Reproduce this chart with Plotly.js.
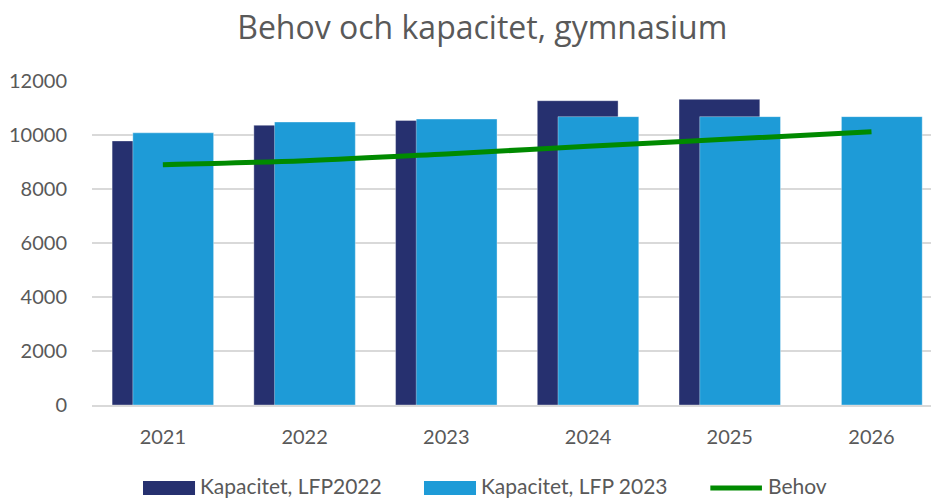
<!DOCTYPE html>
<html>
<head>
<meta charset="utf-8">
<script src="https://cdn.plot.ly/plotly-3.0.1.min.js"></script>
<style>html,body{margin:0;padding:0;background:#fff;}#chart{width:931px;height:499px;}</style>
</head>
<body>
<div id="chart"></div>
<script>
const years = ["2021", "2022", "2023", "2024", "2025", "2026"];
const years2022 = ["2021", "2022", "2023", "2024", "2025"];
const kapacitetLFP2022 = [9780, 10360, 10540, 11270, 11320];
const kapacitetLFP2023 = [10080, 10480, 10590, 10680, 10680, 10680];
const behov = [8900, 9050, 9300, 9580, 9850, 10120];
const yTicks = [0, 2000, 4000, 6000, 8000, 10000, 12000];
const seriesNames = ['Kapacitet, LFP2022', 'Kapacitet, LFP 2023', 'Behov'];

const FONT = "Lato, 'Open Sans', sans-serif";
const TITLE_FONT = "'Open Sans', Lato, sans-serif";
const C_DARK = '#26306F', C_LIGHT = '#1E9BD7', C_GREEN = '#008A00', C_TEXT = '#595959';

const traces = [
  {
    type: 'bar', name: seriesNames[0], x: years2022, y: kapacitetLFP2022,
    width: 0.57, offset: -0.358,
    marker: {color: C_DARK, line: {color: 'rgba(255,255,255,0.35)', width: 1}}
  },
  {
    type: 'bar', name: seriesNames[1], x: years, y: kapacitetLFP2023,
    width: 0.57, offset: -0.212,
    marker: {color: C_LIGHT, line: {color: 'rgba(255,255,255,0.35)', width: 1}}
  },
  {
    type: 'scatter', mode: 'lines', name: seriesNames[2], x: years, y: behov,
    line: {color: C_GREEN, width: 5, shape: 'spline'}
  }
];

// manual legend (wide swatches like the original)
const legY0 = -0.2346, legY1 = -0.2778, legYc = -0.2562;
const shapes = [
  {type: 'rect', xref: 'paper', yref: 'paper', x0: 0.0608, x1: 0.1228, y0: legY1, y1: legY0, fillcolor: C_DARK, line: {width: 0}},
  {type: 'rect', xref: 'paper', yref: 'paper', x0: 0.3957, x1: 0.4577, y0: legY1, y1: legY0, fillcolor: C_LIGHT, line: {width: 0}},
  {type: 'line', xref: 'paper', yref: 'paper', x0: 0.7370, x1: 0.7985, y0: legYc, y1: legYc, line: {color: C_GREEN, width: 5}}
];
const legendTextX = [0.1280, 0.4630, 0.8040];
const annotations = seriesNames.map((n, i) => ({
  text: n, xref: 'paper', yref: 'paper', x: legendTextX[i], y: -0.2895,
  xanchor: 'left', yanchor: 'bottom', showarrow: false, borderpad: 0,
  font: {family: FONT, size: 21, color: C_TEXT}
}));

const layout = {
  width: 931, height: 499,
  margin: {l: 92, r: 0, t: 81, b: 94, autoexpand: false},
  paper_bgcolor: '#ffffff', plot_bgcolor: '#ffffff',
  barmode: 'overlay',
  font: {family: FONT, color: C_TEXT},
  title: {text: 'Behov och kapacitet, gymnasium', xref: 'container', x: 0.518, xanchor: 'center',
          yref: 'container', y: 0.945, yanchor: 'middle',
          font: {family: TITLE_FONT, size: 32, color: C_TEXT}},
  showlegend: false,
  shapes: shapes,
  annotations: annotations,
  xaxis: {
    type: 'category', range: [-0.5, 5.42],
    showgrid: false, showline: true, linecolor: '#d9d9d9', linewidth: 1.5,
    ticks: 'outside', ticklen: 13, tickcolor: 'rgba(0,0,0,0)',
    tickfont: {family: FONT, size: 20, color: C_TEXT}, fixedrange: true
  },
  yaxis: {
    range: [0, 12000], tickvals: yTicks, ticktext: yTicks.map(String),
    showgrid: true, gridcolor: '#d9d9d9', gridwidth: 1.5, zeroline: false,
    showline: false,
    ticks: 'outside', ticklen: 20, tickcolor: 'rgba(0,0,0,0)',
    tickfont: {family: FONT, size: 20, color: C_TEXT}, fixedrange: true
  }
};

Plotly.newPlot('chart', traces, layout, {displayModeBar: false, staticPlot: true});
</script>
</body>
</html>
